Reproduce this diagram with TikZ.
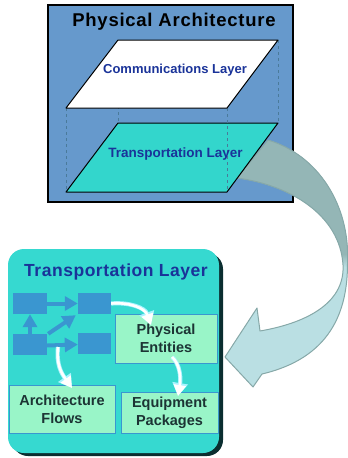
\documentclass[tikz,border=0pt]{standalone}
\usepackage{fontspec}
\setmainfont{Liberation Sans}
\usetikzlibrary{arrows.meta,calc}
\definecolor{boxblue}{HTML}{6699CC}
\definecolor{layerteal}{HTML}{33D6CC}
\definecolor{panelteal}{HTML}{36D9D0}
\definecolor{panelshadow}{HTML}{0B2E30}
\definecolor{mint}{HTML}{99F5C8}
\definecolor{smallblue}{HTML}{3A96D0}
\definecolor{navy}{HTML}{1A3399}
\definecolor{darklabel}{HTML}{1C3434}
\definecolor{dashblue}{HTML}{4A7A9A}
\definecolor{arrowtop}{HTML}{94B6B6}
\definecolor{arrowbot}{HTML}{BADFE3}
\definecolor{arrowedge}{HTML}{86A8A8}
\definecolor{glow}{HTML}{A8F4FF}
\begin{document}
\begin{tikzpicture}[x=1pt,y=-1pt,
  layeredge/.style={draw=black, line width=1pt, line join=round},
  dashline/.style={draw=dashblue, dashed, line width=0.8pt},
  bigtitle/.style={font=\fontsize{18.5}{18.5}\selectfont\bfseries\addfontfeatures{LetterSpace=4}, inner sep=0pt},
  paneltitle/.style={font=\fontsize{17.5}{17.5}\selectfont\bfseries\addfontfeatures{LetterSpace=3}, text=navy, inner sep=0pt},
  layerlabel/.style={font=\fontsize{13}{13}\selectfont\bfseries, text=navy, inner sep=0pt},
  smallbox/.style={fill=smallblue, minimum width=33pt, minimum height=21pt, inner sep=0pt},
  greenbox/.style={fill=mint, draw=smallblue, line width=1pt, inner sep=0pt, align=center,
     text=darklabel, font=\fontsize{14.5}{18}\selectfont\bfseries},
  bluearrow/.style={draw=smallblue, line width=4pt, -{Triangle[width=14pt,length=13pt]}},
  whitearrow/.style={draw=white, line width=2.6pt, -{Triangle[width=12pt,length=11pt]},
     preaction={draw=glow, line width=4.2pt, -{Triangle[width=15pt,length=13pt]}}}
]
\useasboundingbox (0,0) rectangle (348,458);

% ---------- top panel ----------
\fill[boxblue] (48,5) rectangle (293,202);
\draw[black, line width=1.4pt] (48,5) rectangle (293,202);
\node[bigtitle] (phystitle) at (174,22) {Physical Architecture};

% ---------- big curved arrow ----------
\def\bigarrowpath{(268,140) .. controls (318,155) and (350,205) .. (347.5,262)
  .. controls (348,312) and (330,358) .. (262,374)
  -- (253,387) -- (225,357) -- (257,308) -- (260,331)
  .. controls (312,322) and (345,300) .. (343,265)
  .. controls (340,215) and (290,185) .. (237,178) -- cycle}
\fill[arrowbot] \bigarrowpath;
\begin{scope}
  \clip \bigarrowpath;
  \fill[arrowtop] (220,130) rectangle (352,255);
  \shade[top color=arrowtop, bottom color=arrowbot] (220,254) rectangle (352,267);
\end{scope}
\draw[arrowedge, line width=1pt, line join=round] \bigarrowpath;

% layer corners
\coordinate (wTL) at (118,40);  \coordinate (wTR) at (278,40);
\coordinate (wBR) at (227,108); \coordinate (wBL) at (66,108);
\coordinate (tTL) at (118,123); \coordinate (tTR) at (278,123);
\coordinate (tBR) at (227,192); \coordinate (tBL) at (66,192);

% transportation layer
\filldraw[fill=layerteal, layeredge] (tTL) -- (tTR) -- (tBR) -- (tBL) -- cycle;
% dashed vertical connectors
\draw[dashline] (wTL) -- (tTL);
\draw[dashline] (wTR) -- (tTR);
\draw[dashline] (wBR) -- (tBR);
\draw[dashline] (wBL) -- (tBL);
% communications layer
\filldraw[fill=white, layeredge] (wTL) -- (wTR) -- (wBR) -- (wBL) -- cycle;

\node[layerlabel] (commlabel) at (175,70) {Communications Layer};
\node[layerlabel, font=\fontsize{13.5}{13.5}\selectfont\bfseries] (translabel) at (175.5,154) {Transportation Layer};

% ---------- bottom panel ----------
\fill[panelshadow, rounded corners=16pt] (12,253) rectangle (223,456);
\fill[panelteal, rounded corners=16pt] (8,249) rectangle (219,453);
\node[paneltitle] (paneltitle) at (116,272) {Transportation Layer};

\node[smallbox, minimum width=34pt] (A) at (30,303.5) {};
\node[smallbox] (B) at (94.5,303.5) {};
\node[smallbox, minimum width=34pt] (C) at (30,344.5) {};
\node[smallbox] (D) at (94.5,343.5) {};

\draw[bluearrow] (A.east) -- (B.west);
\draw[bluearrow] (C.north) -- (A.south);
\draw[bluearrow] ([xshift=1pt]C.north east) -- ([xshift=-2pt,yshift=-1pt]B.south west);
\draw[bluearrow] ([yshift=-1pt]C.east) -- ([yshift=-1pt]D.west);

\node[greenbox, minimum width=102pt, minimum height=49pt] (PE) at (166,338.5) {Physical\\Entities};
\node[greenbox, minimum width=106pt, minimum height=48pt] (AF) at (62,409) {Architecture\\Flows};
\node[greenbox, minimum width=97pt, minimum height=41pt] (EP) at (169.5,412.5) {Equipment\\Packages};

\coordinate (w1end) at (151,325);
\coordinate (w2start) at (172,357);
\coordinate (w2end) at (178,396);
\coordinate (w3start) at (58,347);
\coordinate (w3end) at (72,388);

\draw[whitearrow] (B.east) .. controls (130,302) and (145,308) .. (w1end);
\draw[whitearrow] (w2start) .. controls (180,364) and (181,378) .. (w2end);
\draw[whitearrow] (w3start) .. controls (56,365) and (62,374) .. (w3end);
\end{tikzpicture}
\end{document}
